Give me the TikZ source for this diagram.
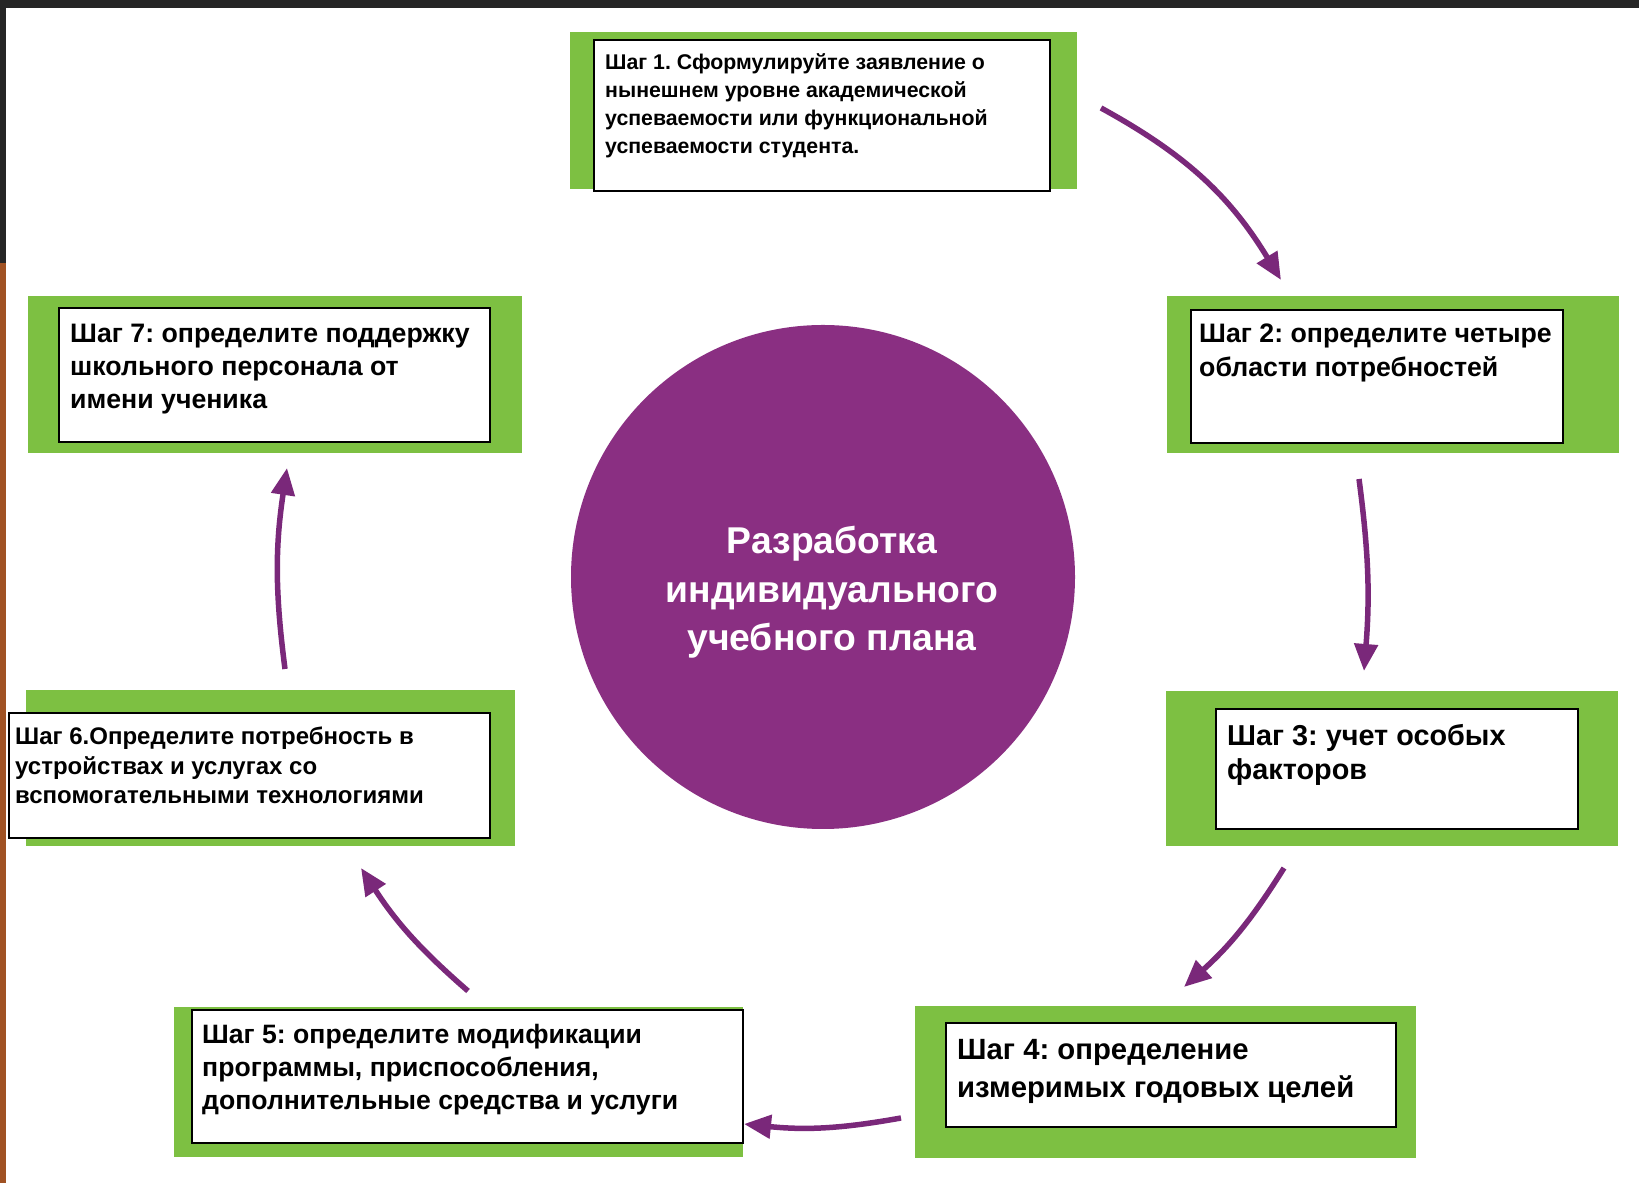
\documentclass[tikz,border=0pt]{standalone}
\usepackage{fontspec}
\setmainfont{Liberation Sans}
\usetikzlibrary{arrows.meta}
\definecolor{gbox}{RGB}{125,192,66}
\definecolor{pcirc}{RGB}{138,47,130}
\definecolor{parrow}{RGB}{122,40,122}
\definecolor{darkband}{RGB}{38,38,38}
\definecolor{brownband}{RGB}{160,82,35}
\frenchspacing
\tikzset{
  greenbox/.style={fill=gbox, draw=none},
  whitebox/.style={fill=white, draw=black, line width=1.4pt},
  steptext/.style={anchor=base west, align=left, inner sep=0pt, text=black},
  flow/.style={draw=parrow, line width=5.5pt, -{Triangle[length=27pt,width=23pt]}},
}
\begin{document}
\begin{tikzpicture}[x=1pt,y=1pt]
\useasboundingbox (0,0) rectangle (1639,1183);
\fill[white] (0,0) rectangle (1639,1183);
\fill[darkband] (0,1175) rectangle (1639,1183);
\fill[darkband] (0,920) rectangle (6,1183);
\fill[brownband] (0,0) rectangle (6,920);

% green frames
\path[greenbox] (570,994) rectangle (1077,1151) node[coordinate] (g1) {};
\path[greenbox] (1167,730) rectangle (1619,887) node[coordinate] (g2) {};
\path[greenbox] (1166,337) rectangle (1618,492) node[coordinate] (g3) {};
\path[greenbox] (915,25) rectangle (1416,177) node[coordinate] (g4) {};
\path[greenbox] (174,26) rectangle (743,176) node[coordinate] (g5) {};
\path[greenbox] (26,337) rectangle (515,493) node[coordinate] (g6) {};
\path[greenbox] (28,730) rectangle (522,887) node[coordinate] (g7) {};

% white boxes
\path[whitebox] (594,992) rectangle (1050,1143) node[coordinate] (w1) {};
\path[whitebox] (1191,740) rectangle (1563,873) node[coordinate] (w2) {};
\path[whitebox] (1216,354) rectangle (1578,474) node[coordinate] (w3) {};
\path[whitebox] (946,56) rectangle (1396,160) node[coordinate] (w4) {};
\path[whitebox] (192,40) rectangle (743,173) node[coordinate] (w5) {};
\path[whitebox] (9,345) rectangle (490,470) node[coordinate] (w6) {};
\path[whitebox] (59,741) rectangle (490,875) node[coordinate] (w7) {};

% texts (anchor = baseline of the last line)
\node[steptext, font=\bfseries\fontsize{21.3}{28}\selectfont] (t1) at (605,1029)
 {Шаг 1. Сформулируйте заявление о\\нынешнем уровне академической\\успеваемости или функциональной\\успеваемости студента.};
\node[steptext, font=\bfseries\fontsize{26.7}{34}\selectfont] (t2) at (1199,806)
 {Шаг 2: определите четыре\\области потребностей};
\node[steptext, font=\bfseries\fontsize{28.8}{34.3}\selectfont] (t3) at (1227,403)
 {Шаг 3: учет особых\\факторов};
\node[steptext, font=\bfseries\fontsize{29.3}{38.5}\selectfont] (t4) at (957,85)
 {Шаг 4: определение\\измеримых годовых целей};
\node[steptext, font=\bfseries\fontsize{26.6}{33}\selectfont] (t5) at (202,73)
 {Шаг 5: определите модификации\\программы, приспособления,\\дополнительные средства и услуги};
\node[steptext, font=\bfseries\fontsize{24}{29.8}\selectfont] (t6) at (15,379)
 {Шаг 6.Определите потребность в\\устройствах и услугах со\\вспомогательными технологиями};
\node[steptext, font=\bfseries\fontsize{26.7}{33}\selectfont] (t7) at (70,774)
 {Шаг 7: определите поддержку\\школьного персонала от\\имени ученика};

% central circle
\fill[pcirc] (823,606) circle (252);
\node[anchor=base, align=center, inner sep=0pt, text=white,
      font=\bfseries\fontsize{37.3}{48.5}\selectfont] (ctr) at (832,532)
 {Разработка\\индивидуального\\учебного плана};

% arrow end points
\coordinate (a1s) at (1101,1075); \coordinate (a1e) at (1281,903);
\coordinate (a2s) at (1359,704);  \coordinate (a2e) at (1364,512);
\coordinate (a3s) at (1284,315);  \coordinate (a3e) at (1184,196);
\coordinate (a4s) at (901,65);    \coordinate (a4e) at (744,59);
\coordinate (a5s) at (468,192);   \coordinate (a5e) at (361,315);
\coordinate (a6s) at (285,514);   \coordinate (a6e) at (287,715);

\draw[flow] (a1s) to[bend left=15] (a1e);
\draw[flow] (a2s) to[bend left=6] (a2e);
\draw[flow] (a3s) to[bend left=8] (a3e);
\draw[flow] (a4s) to[bend left=8] (a4e);
\draw[flow] (a5s) to[bend left=8] (a5e);
\draw[flow] (a6s) to[bend left=8] (a6e);
\end{tikzpicture}
\end{document}
